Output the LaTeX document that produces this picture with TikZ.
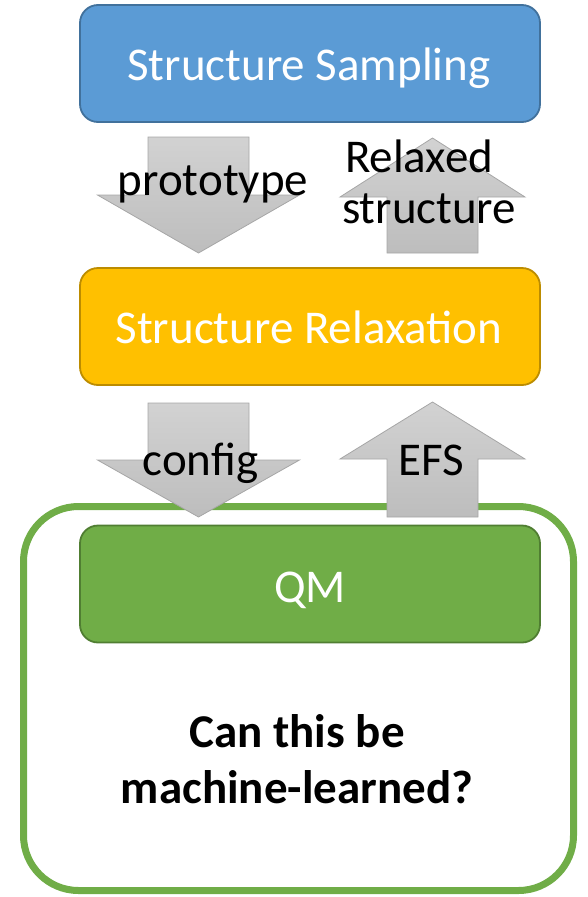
\documentclass[tikz,border=0pt]{standalone}
\usepackage{fontspec}
\setmainfont{Carlito}
\definecolor{sblue}{HTML}{5B9BD5}
\definecolor{sblueb}{HTML}{41719C}
\definecolor{syel}{HTML}{FFC000}
\definecolor{syelb}{HTML}{BC8C00}
\definecolor{sgreen}{HTML}{70AD47}
\definecolor{sgreenb}{HTML}{507E32}
\definecolor{agtop}{HTML}{D2D2D2}
\definecolor{agbot}{HTML}{BDBDBD}
\definecolor{agline}{HTML}{A6A6A6}
\begin{document}
\begin{tikzpicture}[x=1pt,y=-1pt,
  stagebox/.style={rounded corners=18pt, line width=1.8pt, minimum width=460pt, minimum height=117pt, inner sep=0pt, outer sep=0pt},
  blockarrow/.style={draw=agline, line width=0.8pt, top color=agtop, bottom color=agbot},
  lbl/.style={font=\fontsize{47}{51}\selectfont, anchor=base, inner sep=0pt, outer sep=0pt},
  wlbl/.style={lbl, text=white},
  blbl/.style={lbl, font=\fontsize{47}{51}\selectfont\bfseries}]
\useasboundingbox (0,0) rectangle (587,897);
% outer learned box
\node[draw=sgreen, line width=7pt, rounded corners=55pt, minimum width=550pt, minimum height=384pt, inner sep=0pt] (mlbox) at (298.5,698.5) {};
% stage boxes
\node[stagebox, fill=sblue, draw=sblueb] (samp) at (310,63.5) {};
\node[stagebox, fill=syel, draw=syelb] (relax) at (310,326.5) {};
\node[stagebox, fill=sgreen, draw=sgreenb] (qm) at (310,584) {};
% block arrows
\path[blockarrow] (148,137) -- (249,137) -- (249,195) -- (299.5,195) -- (198.5,253) -- (97.5,195) -- (148,195) -- cycle;
\path[blockarrow] (387,253) -- (478,253) -- (478,197) -- (525,197) -- (432.5,138) -- (340,197) -- (387,197) -- cycle;
\path[blockarrow] (148,403) -- (249,403) -- (249,460) -- (299.5,460) -- (198.5,517) -- (97.5,460) -- (148,460) -- cycle;
\path[blockarrow] (387,517) -- (478,517) -- (478,459) -- (525,459) -- (432.5,402) -- (340,459) -- (387,459) -- cycle;
% labels
\node[wlbl] (sampt) at (309,80) {Structure Sampling};
\node[wlbl] (relaxt) at (309,343) {Structure Relaxation};
\node[wlbl] (qmt) at (310,602) {QM};
\node[lbl] (proto) at (213,195) {prototype};
\node[lbl, anchor=base west] (rel1) at (345,172) {Relaxed};
\node[lbl, anchor=base west] (rel2) at (342,223) {structure};
\node[lbl] (conf) at (200.5,475) {config};
\node[lbl] (efs) at (431.5,475) {EFS};
\node[blbl] (q1) at (297,747) {Can this be};
\node[blbl] (q2) at (297,803) {machine-learned?};
\end{tikzpicture}
\end{document}
